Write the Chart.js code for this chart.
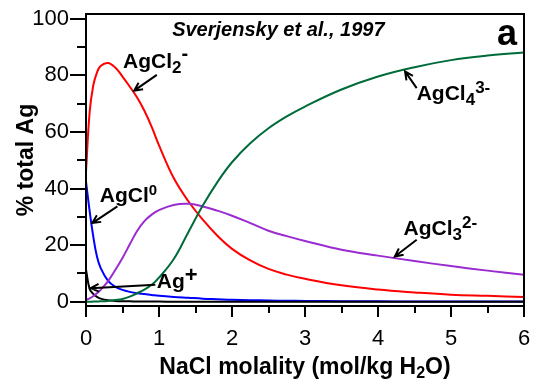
<!DOCTYPE html>
<html>
<head>
<meta charset="utf-8">
<script src="https://cdn.jsdelivr.net/npm/chart.js@4.4.1/dist/chart.umd.min.js"></script>
<style>
  html, body { margin: 0; padding: 0; background: #fff; }
  #c { display: block; }
</style>
</head>
<body>
<canvas id="c" width="535" height="389"></canvas>
<script>
// NaCl molality (mol/kg H2O) at which the speciation is tabulated
const molality = [0, 0.05, 0.1, 0.15, 0.2, 0.3, 0.4, 0.5, 0.6, 0.7, 0.8, 0.9, 1.0,
                  1.2, 1.4, 1.6, 1.8, 2.0, 2.25, 2.5, 2.75, 3.0, 3.5, 4.0, 4.5, 5.0, 5.5, 6.0];

// % of total Ag carried by each species
const agPlus  = [11.3, 4.5, 2.8, 1.7, 1.1, 0.5, 0.3, 0.2, 0.15, 0.1, 0.08, 0.06, 0.05,
                 0.04, 0.03, 0.02, 0.02, 0.01, 0.01, 0, 0, 0, 0, 0, 0, 0, 0, 0];
const agCl0   = [42.5, 32, 23, 16, 12, 7.5, 5.3, 4.2, 3.5, 3.0, 2.7, 2.4, 2.1,
                 1.7, 1.4, 1.1, 0.9, 0.7, 0.55, 0.45, 0.35, 0.3, 0.2, 0.15, 0.1, 0.08, 0.06, 0.05];
const agCl2   = [46, 67, 76.5, 81, 83.3, 84.4, 82.8, 79.6, 76, 72.2, 67.5, 61.8, 55.3,
                 43.8, 35.6, 29.0, 23.3, 18.7, 14.6, 11.6, 9.6, 8.1, 5.8, 4.3, 3.3, 2.5, 2.1, 1.7];
const agCl3   = [0.7, 1.2, 2.0, 3.0, 4.2, 7.2, 11.2, 15.5, 20.3, 25, 28.5, 30.8, 32.4,
                 34.2, 34.6, 33.7, 32.2, 30.4, 27.8, 25.1, 23.2, 21.5, 18.4, 16.3, 14.4, 12.6, 11.0, 9.5];
const agCl4   = [0, 0, 0.05, 0.1, 0.15, 0.3, 0.6, 1.0, 1.8, 3.0, 4.3, 6.0, 8.5,
                 15, 24.5, 34, 42.3, 49.3, 56, 61.3, 65.5, 69, 75, 79.6, 82.9, 85.4, 87, 88.1];

// axis ticks
const xMajorTicks = [0, 1, 2, 3, 4, 5, 6];
const xMinorTicks = [0.5, 1.5, 2.5, 3.5, 4.5, 5.5];
const yMajorTicks = [0, 20, 40, 60, 80, 100];
const yMinorTicks = [10, 30, 50, 70, 90];

const FAMILY = '"Liberation Sans", Arial, Helvetica, sans-serif';

function series(values) {
  return values.map((v, i) => ({ x: molality[i], y: v }));
}

function line(label, values, color) {
  return {
    label,
    data: series(values),
    borderColor: color,
    borderWidth: 2,
    pointRadius: 0,
    fill: false,
    tension: 0.4
  };
}

// species labels: text runs [text, size, baseline shift], anchor (left, baseline) and arrow in data units
const speciesLabels = [
  { at: [0.507, 82.7], runs: [['AgCl', 21, 0], ['2', 17, 5], ['-', 20, -8]],
    arrow: [[0.97, 80.2], [0.66, 74.6]] },
  { at: [0.19, 35.4], runs: [['AgCl', 21, 0], ['0', 15, -7]],
    arrow: [[0.43, 33.7], [0.086, 27.8]] },
  { at: [0.97, 4.9], runs: [['Ag', 21, 0], ['+', 22, -6]],
    arrow: [[0.95, 6.0], [0.064, 4.8]] },
  { at: [4.35, 23.7], runs: [['AgCl', 21, 0], ['3', 17, 5], ['2-', 17, -7]],
    arrow: [[4.53, 21.9], [4.23, 16.0]] },
  { at: [4.53, 71.4], runs: [['AgCl', 21, 0], ['4', 17, 5], ['3-', 17, -7]],
    arrow: [[4.53, 75.5], [4.37, 81.4]] }
];

function drawRuns(ctx, x, y, runs) {
  let cx = x;
  ctx.textAlign = 'left';
  ctx.textBaseline = 'alphabetic';
  for (const [t, size, dy] of runs) {
    ctx.font = `bold ${size}px ${FAMILY}`;
    ctx.fillText(t, cx, y + dy);
    cx += ctx.measureText(t).width;
  }
}

function drawArrow(ctx, x1, y1, x2, y2) {
  const ang = Math.atan2(y2 - y1, x2 - x1);
  const head = 9, spread = 0.45;
  ctx.beginPath();
  ctx.moveTo(x1, y1);
  ctx.lineTo(x2, y2);
  ctx.moveTo(x2 - head * Math.cos(ang - spread), y2 - head * Math.sin(ang - spread));
  ctx.lineTo(x2, y2);
  ctx.lineTo(x2 - head * Math.cos(ang + spread), y2 - head * Math.sin(ang + spread));
  ctx.stroke();
}

const decorations = {
  id: 'decorations',
  afterDraw(chart) {
    const { ctx, chartArea: a, scales: { x, y } } = chart;
    ctx.save();
    ctx.strokeStyle = '#000';
    ctx.fillStyle = '#000';
    ctx.lineWidth = 2;
    ctx.lineCap = 'butt';

    // frame
    ctx.strokeRect(a.left, a.top, a.right - a.left, a.bottom - a.top);

    // tick marks
    ctx.beginPath();
    for (const v of yMajorTicks) { const p = Math.round(y.getPixelForValue(v)); ctx.moveTo(a.left - 16, p); ctx.lineTo(a.left, p); }
    for (const v of yMinorTicks) { const p = Math.round(y.getPixelForValue(v)); ctx.moveTo(a.left - 9, p); ctx.lineTo(a.left, p); }
    for (const v of xMajorTicks) { const p = Math.round(x.getPixelForValue(v)); ctx.moveTo(p, a.bottom); ctx.lineTo(p, a.bottom + 11); }
    for (const v of xMinorTicks) { const p = Math.round(x.getPixelForValue(v)); ctx.moveTo(p, a.bottom); ctx.lineTo(p, a.bottom + 7); }
    ctx.stroke();

    // axis titles
    ctx.textBaseline = 'alphabetic';
    const xt = [['NaCl molality (mol/kg H', 23, 0], ['2', 16, 4], ['O)', 23, 0]];
    let w = 0;
    for (const [t, s] of xt) { ctx.font = `bold ${s}px ${FAMILY}`; w += ctx.measureText(t).width; }
    drawRuns(ctx, (a.left + a.right) / 2 - w / 2, 374, xt);

    ctx.save();
    ctx.translate(33, (a.top + a.bottom) / 2);
    ctx.rotate(-Math.PI / 2);
    ctx.font = `bold 23px ${FAMILY}`;
    ctx.textAlign = 'center';
    ctx.fillText('% total Ag', 0, 0);
    ctx.restore();

    // source and panel letter
    ctx.font = `italic bold 20px ${FAMILY}`;
    ctx.textAlign = 'left';
    ctx.fillText('Sverjensky et al., 1997', x.getPixelForValue(1.18), y.getPixelForValue(94));
    ctx.font = `bold 36px ${FAMILY}`;
    ctx.fillText('a', x.getPixelForValue(5.63), y.getPixelForValue(90.8));

    // species labels with arrows
    for (const lab of speciesLabels) {
      drawRuns(ctx, x.getPixelForValue(lab.at[0]), y.getPixelForValue(lab.at[1]), lab.runs);
      const [[x1, y1], [x2, y2]] = lab.arrow;
      drawArrow(ctx, x.getPixelForValue(x1), y.getPixelForValue(y1),
                     x.getPixelForValue(x2), y.getPixelForValue(y2));
    }
    ctx.restore();
  }
};

new Chart(document.getElementById('c'), {
  type: 'line',
  data: {
    datasets: [
      line('AgCl4 3-', agCl4, '#006b3a'),
      line('AgCl3 2-', agCl3, '#9a2bd0'),
      line('AgCl2 -', agCl2, '#ff0000'),
      line('Ag+', agPlus, '#000000'),
      line('AgCl0', agCl0, '#0000ff')
    ]
  },
  options: {
    responsive: false,
    animation: false,
    devicePixelRatio: 1,
    layout: { padding: { top: 14, right: 11, left: 0, bottom: 0 } },
    plugins: { legend: { display: false }, tooltip: { enabled: false } },
    scales: {
      x: {
        type: 'linear',
        min: 0,
        max: 6,
        afterBuildTicks: s => { s.ticks = xMajorTicks.map(v => ({ value: v })); },
        afterFit: s => { s.height = 83; s.paddingLeft = 0; s.paddingRight = 0; },
        border: { display: false },
        grid: { drawOnChartArea: false, color: 'transparent', tickColor: 'transparent', tickLength: 11 },
        ticks: { color: '#000', font: { family: FAMILY, size: 22 }, padding: 9, maxRotation: 0, autoSkip: false }
      },
      y: {
        type: 'linear',
        min: -1.5,
        max: 101.7,
        afterBuildTicks: s => { s.ticks = yMajorTicks.map(v => ({ value: v })); },
        afterFit: s => { s.width = 86; s.paddingTop = 0; s.paddingBottom = 0; },
        border: { display: false },
        grid: { drawOnChartArea: false, color: 'transparent', tickColor: 'transparent', tickLength: 16 },
        ticks: { color: '#000', font: { family: FAMILY, size: 22 }, padding: 1 }
      }
    }
  },
  plugins: [decorations]
});
</script>
</body>
</html>
